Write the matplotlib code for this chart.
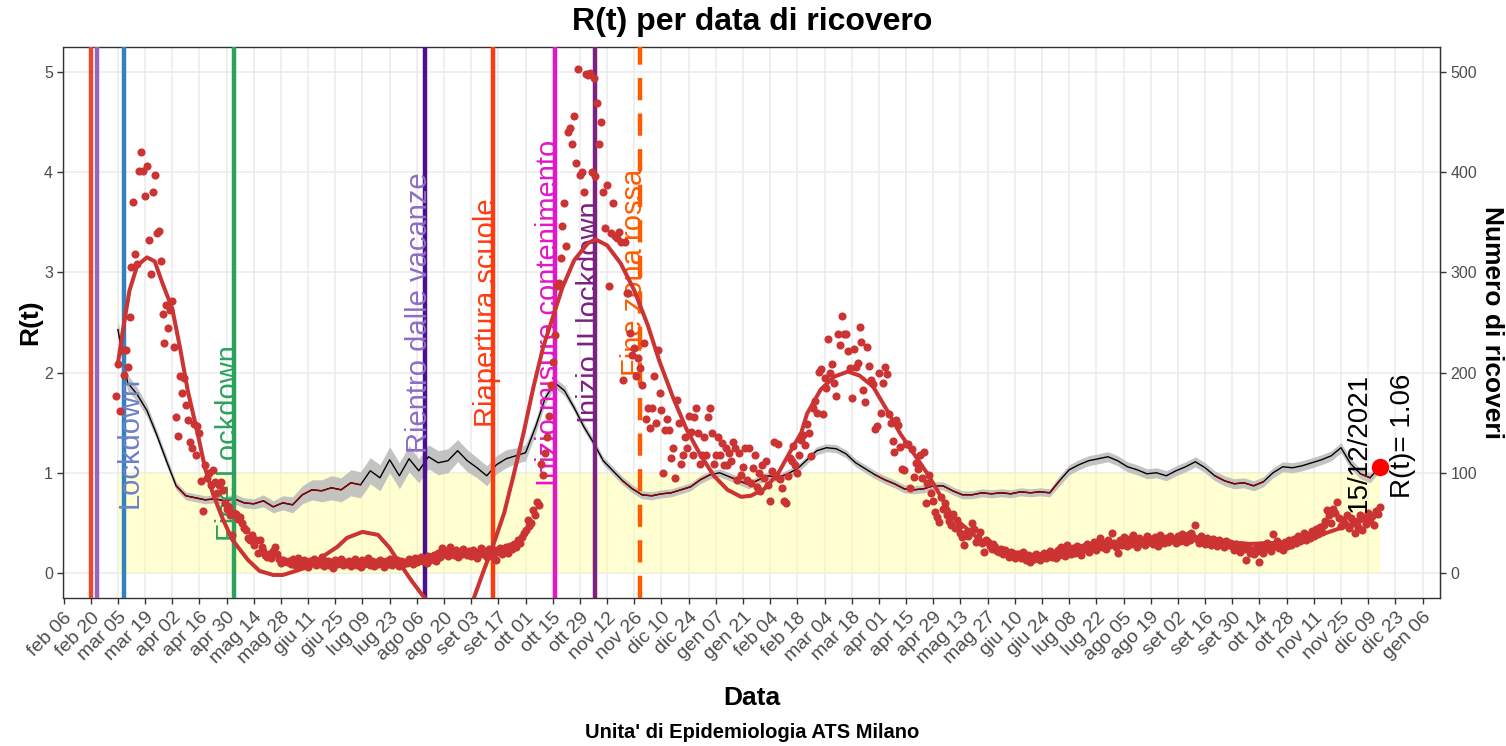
import matplotlib
matplotlib.use("Agg")
import matplotlib.pyplot as plt
import numpy as np
import pandas as pd

plt.rcParams['font.family'] = ['Liberation Sans', 'DejaVu Sans']

# ricoveri giornalieri (dal 4 marzo 2020)
ricoveri_start = "2020-03-04"
ricoveri_2020 = [
    177, 209, 162, 223, 198, 223, 206, 255, 305, 370, 318, 308, 401, 420, 401, 376, 406, 332, 298, 380,
    397, 339, 341, 311, 258, 230, 267, 245,
    262, 271, 226, 156, 137, 197, 180, 195, 168, 153, 131, 125, 149, 118, 147, 140, 92, 62, 108, 95,
    100, 88, 103, 91, 80, 88, 91, 83, 70, 64,
    66, 58, 38, 60, 59, 54, 56, 50, 45, 43, 35, 33, 38, 28, 33, 20, 33, 26, 22, 18,
    16, 19, 15, 22, 26, 19, 14, 10, 13, 12, 11,
    12, 9, 14, 8, 11, 15, 7, 10, 13, 9, 6, 12, 10, 14, 8, 11, 9, 16, 7, 10,
    12, 8, 11, 5, 13, 9, 10, 14, 8, 11,
    9, 12, 7, 10, 14, 8, 11, 6, 13, 9, 10, 15, 8, 12, 7, 11, 9, 13, 10, 6,
    12, 9, 14, 8, 11, 10, 13, 7, 12, 9, 11,
    10, 14, 12, 9, 15, 11, 13, 16, 12, 14, 10, 17, 13, 15, 18, 12, 20, 16, 25, 19,
    22, 17, 26, 20, 18, 23, 16, 21, 19, 24, 20,
    18, 22, 17, 23, 20, 15, 21, 25, 19, 22, 16, 24, 20, 18, 23, 13, 21, 25, 19, 23,
    26, 20, 27, 24, 29, 26, 33, 30, 36, 40,
    43, 53, 47, 50, 63, 58, 71, 68, 109, 98, 120, 136, 157, 188, 211, 238, 286, 289, 314, 346,
    369, 326, 440, 444, 428, 456, 409, 503, 397, 400, 380,
    498, 497, 499, 400, 494, 396, 469, 428, 450, 380, 344, 387, 286, 339, 369, 336, 334, 340, 330, 193,
    330, 279, 279, 240, 218, 225, 197, 215, 205, 188,
    230, 154, 165, 145, 165, 197, 150, 223, 180, 163, 100, 143, 154, 143, 115, 125, 95, 173, 150, 109,
    118, 136, 125, 157, 141, 118, 156, 165, 140, 109, 118,
]
ricoveri_2021 = [
    136, 118, 156, 165, 140, 109, 118, 136, 118, 130, 108, 125, 108, 120, 112, 131, 125, 93, 120, 98,
    106, 125, 93, 125, 90, 105, 118, 86, 100, 82, 108,
    95, 112, 88, 72, 102, 131, 97, 129, 94, 85, 72, 70, 97, 115, 112, 127, 108, 100, 118, 133,
    138, 128, 149, 140, 117, 165, 172, 160,
    201, 204, 159, 195, 185, 234, 200, 209, 190, 177, 239, 228, 256, 239, 239, 222, 205, 175, 224, 206,
    210, 246, 231, 183, 171, 226, 207, 193, 189, 144, 147,
    200, 160, 190, 206, 199, 159, 150, 132, 121, 153, 148, 126, 104, 103, 129, 129, 85, 124, 96, 110,
    104, 118, 95, 121, 70, 90, 98, 80, 72, 61,
    56, 51, 76, 64, 70, 58, 52, 48, 59, 45, 53, 47, 40, 36, 28, 40, 37, 42, 50, 44,
    31, 35, 41, 30, 21, 33, 31, 27, 24, 29, 26,
    22, 21, 24, 19, 23, 20, 16, 21, 18, 15, 17, 19, 15, 21, 17, 13, 18, 11, 16, 14,
    19, 16, 13, 18, 20, 15, 17, 22, 16, 20,
    15, 23, 18, 26, 21, 17, 28, 22, 19, 25, 20, 27, 23, 18, 26, 24, 29, 21, 27, 25,
    31, 23, 28, 35, 26, 30, 24, 33, 28, 40, 30,
    26, 20, 33, 28, 36, 31, 27, 34, 29, 38, 32, 26, 35, 30, 33, 28, 37, 31, 34, 29,
    36, 32, 27, 38, 33, 30, 35, 31, 37, 33, 34,
    30, 37, 32, 39, 35, 31, 38, 33, 40, 36, 48, 34, 30, 37, 33, 29, 35, 31, 28, 34,
    30, 27, 33, 29, 31, 26, 32, 28, 30, 27,
    23, 29, 25, 21, 28, 24, 13, 26, 20, 23, 19, 25, 22, 11, 28, 20, 24, 30, 26, 22,
    39, 27, 32, 25, 29, 23, 31, 27, 33, 28, 30,
    34, 30, 37, 32, 36, 40, 33, 38, 35, 42, 37, 44, 39, 46, 41, 48, 52, 63, 58, 50,
    64, 60, 71, 55, 47, 53, 49, 58, 45, 55,
    50, 40, 52, 46, 58, 43, 55, 49, 60, 52, 57, 48, 62, 59, 66,
]

# curva smussata dei ricoveri: giorni dal 6 feb 2020 e valore
smooth_origin = "2020-02-06"
smooth_days = [28, 31, 34, 38, 43, 47, 51, 56, 60, 64, 69, 73, 77, 82, 87, 95, 101, 108, 113, 118,
               126, 134, 141, 146, 154, 162, 168, 173, 179, 184, 189, 199, 207, 211, 216, 221, 227, 232, 237, 242,
               247, 252, 257, 263, 270, 274, 280, 287, 294, 301, 307, 314, 321, 328, 335, 342, 349, 354, 361, 368,
               374, 380, 383, 390, 397, 404, 410, 417, 424, 431, 438, 445, 452, 458, 466, 472, 479, 489, 500, 513,
               534, 560, 586, 611, 637, 658, 678]
smooth_vals = [209, 247, 282, 307, 315, 311, 289, 264, 225, 182, 140, 104, 79, 54, 33, 13, 2, -2, -2, 1,
               6, 17, 26, 35, 41, 38, 25, 10, -7, -20, -32, -55, -45, -27, 0, 26, 60, 99, 140, 185,
               225, 255, 285, 312, 329, 333, 327, 309, 282, 247, 211, 175, 143, 118, 97, 83, 76, 77, 84, 99,
               120, 140, 159, 183, 196, 201, 197, 186, 163, 139, 119, 99, 76, 56, 43, 33, 26, 21, 18, 20,
               27, 32, 33, 29, 31, 45, 58]

# R(t) ogni 5 giorni dal 5 marzo 2020, con semi-ampiezza dell'intervallo
rt_start = "2020-03-05"
rt_values = [
    2.43, 1.90, 1.78, 1.62, 1.38, 1.12, 0.87, 0.77, 0.75, 0.73,
    0.74, 0.72, 0.74, 0.70, 0.69, 0.72, 0.66, 0.70, 0.68, 0.78,
    0.83, 0.82, 0.85, 0.83, 0.90, 0.88, 1.02, 0.95, 1.13, 0.97,
    1.14, 1.02, 1.16, 1.10, 1.12, 1.22, 1.12, 1.05, 0.97, 1.08,
    1.14, 1.17, 1.20, 1.45, 1.74, 1.90, 1.82, 1.65, 1.46, 1.30,
    1.12, 1.02, 0.92, 0.84, 0.78, 0.77, 0.79, 0.80, 0.83, 0.86,
    0.93, 0.98, 1.00, 0.96, 0.92, 0.88, 0.93, 0.97, 0.95, 0.99,
    1.04, 1.13, 1.22, 1.25, 1.24, 1.19, 1.10, 1.04, 0.98, 0.93,
    0.89, 0.84, 0.83, 0.84, 0.87, 0.87, 0.82, 0.78, 0.78, 0.80,
    0.79, 0.80, 0.79, 0.81, 0.80, 0.81, 0.80, 0.92, 1.03, 1.08,
    1.12, 1.14, 1.16, 1.12, 1.06, 1.03, 0.99, 1.00, 0.97, 1.02,
    1.06, 1.11, 1.05, 0.97, 0.92, 0.89, 0.90, 0.87, 0.91, 1.00,
    1.06, 1.05, 1.07, 1.10, 1.13, 1.17, 1.25, 1.09, 0.99, 0.95,
    1.06,
]
rt_halfwidth = [
    0.10, 0.08, 0.07, 0.06, 0.05, 0.05, 0.04, 0.04, 0.04, 0.04,
    0.04, 0.04, 0.05, 0.05, 0.05, 0.06, 0.06, 0.07, 0.08, 0.09,
    0.10, 0.11, 0.12, 0.12, 0.13, 0.13, 0.13, 0.13, 0.13, 0.13,
    0.13, 0.12, 0.12, 0.12, 0.12, 0.11, 0.11, 0.10, 0.10, 0.09,
    0.09, 0.08, 0.08, 0.07, 0.06, 0.05, 0.05, 0.04, 0.04, 0.04,
    0.04, 0.04, 0.04, 0.04, 0.04, 0.04, 0.04, 0.04, 0.04, 0.04,
    0.04, 0.04, 0.04, 0.04, 0.04, 0.04, 0.04, 0.04, 0.04, 0.04,
    0.04, 0.04, 0.04, 0.04, 0.04, 0.04, 0.04, 0.04, 0.04, 0.04,
    0.04, 0.04, 0.04, 0.04, 0.04, 0.04, 0.04, 0.04, 0.04, 0.04,
    0.04, 0.04, 0.04, 0.04, 0.04, 0.04, 0.04, 0.05, 0.05, 0.05,
    0.05, 0.05, 0.05, 0.05, 0.05, 0.05, 0.05, 0.05, 0.05, 0.05,
    0.05, 0.05, 0.05, 0.05, 0.05, 0.05, 0.05, 0.05, 0.05, 0.05,
    0.05, 0.05, 0.05, 0.05, 0.05, 0.05, 0.05, 0.05, 0.05, 0.05,
    0.05,
]
rt_last_date = "2021-12-15"
rt_last = 1.06

# eventi
event_dates = ["2020-02-20", "2020-02-23", "2020-03-08", "2020-05-04", "2020-08-10",
               "2020-09-14", "2020-10-16", "2020-11-06", "2020-11-29"]
event_labels = ["", "", "Lockdown", "Fine Lockdown", "Rientro dalle vacanze",
                "Riapertura scuole", "Inizio misure contenimento", "Inizio II lockdown", "Fine zona rossa"]
event_colors = ["#E64B2E", "#9467BD", "#3182BD", "#2CA25F", "#4B0F8F",
                "#FF3A10", "#E317C8", "#7B2181", "#FF5A00"]
event_text_colors = ["#E64B2E", "#9467BD", "#6F80C8", "#2CA25F", "#8E6CC6",
                     "#FF3A10", "#E317C8", "#7B2181", "#FF5A00"]
label_shift_days = [0, 0, 3, -3, -3, -3, -3, -3, -3]
label_y = [0, 0, 1.3, 1.3, 2.6, 2.6, 2.6, 2.6, 3.0]
event_styles = ["-", "-", "-", "-", "-", "-", "-", "-", "--"]

mesi = ["gen", "feb", "mar", "apr", "mag", "giu", "lug", "ago", "set", "ott", "nov", "dic"]

pts_col = "#CC3333"

fig = plt.figure(figsize=(15.06, 7.46), dpi=100)
ax = fig.add_axes([63.5 / 1506, 1 - 598 / 746, (1440 - 63.5) / 1506, 551 / 746])

ric = np.array(ricoveri_2020 + ricoveri_2021) / 100
ric_dates = pd.date_range(ricoveri_start, periods=len(ric), freq="D")
rt = np.array(rt_values)
hw = np.array(rt_halfwidth)
rt_dates = pd.date_range(rt_start, periods=len(rt), freq="5D")
sm_dates = pd.Timestamp(smooth_origin) + pd.to_timedelta(smooth_days, unit="D")
sm = np.array(smooth_vals) / 100

# banda gialla R<1
ax.fill_between([pd.Timestamp(rt_start), pd.Timestamp(rt_last_date)], 0, 1,
                color="#FFFF99", alpha=0.45, lw=0, zorder=1)

# intervallo e linea R(t)
ax.fill_between(rt_dates, rt - hw, rt + hw, color="#BDBDBD", alpha=0.9, lw=0, zorder=2)
ax.plot(rt_dates, rt, color="black", lw=1.0, zorder=3)
rt_below = np.where(rt < 1, rt, np.nan)
ax.plot(rt_dates, rt_below, color="#8B0000", lw=1.0, zorder=3.1)

# linee degli eventi
for d, lab, c, tc, sh, ly, ls in zip(event_dates, event_labels, event_colors, event_text_colors,
                                     label_shift_days, label_y, event_styles):
    d = pd.Timestamp(d)
    if ls == "--":
        ax.axvline(d, color=c, lw=3.2, ls=(0, (5, 3)), zorder=4)
    else:
        ax.axvline(d, color=c, lw=3.2, zorder=4)
    if lab:
        ax.text(d + pd.Timedelta(days=sh), ly, lab, rotation=90, ha="center", va="center",
                color=tc, fontsize=21, zorder=4.5)

# ricoveri e curva smussata
ax.scatter(ric_dates, ric, s=34, color=pts_col, lw=0, zorder=5)
ax.plot(sm_dates, sm, color=pts_col, lw=2.9, zorder=5.5)

# ultimo valore
last = pd.Timestamp(rt_last_date)
ax.plot(last, rt_last, "o", color="#FF0000", ms=11.5, zorder=7)
ax.text(last - pd.Timedelta(days=11), 1.30, last.strftime("%d/%m/%Y"), rotation=90,
        ha="center", va="center", fontsize=20, color="black", zorder=7)
ax.text(last + pd.Timedelta(days=12), 1.37, "R(t)= %.2f" % rt_last, rotation=90,
        ha="center", va="center", fontsize=20, color="black", zorder=7)

# assi
xticks = pd.date_range("2020-02-06", "2022-01-06", freq="14D")
ax.set_xticks(xticks)
ax.set_xticklabels(["%s %02d" % (mesi[t.month - 1], t.day) for t in xticks],
                   rotation=45, ha="right", va="top", rotation_mode="anchor")
ax.set_xlim(pd.Timestamp("2020-02-06"), pd.Timestamp("2022-01-15"))
ax.set_ylim(-0.25, 5.25)
ax.set_yticks(range(6))
ax.grid(True, color="#EBEBEB", lw=1.1)
ax.set_axisbelow(True)
for s in ax.spines.values():
    s.set_color("#333333")
    s.set_linewidth(1.0)
ax.tick_params(axis="both", colors="#333333", length=4, width=1, labelsize=11.5,
               labelcolor="#4D4D4D")
ax.tick_params(axis="x", pad=4, labelsize=14)

sec = ax.secondary_yaxis("right", functions=(lambda v: v * 100, lambda v: v / 100))
sec.set_yticks(range(0, 501, 100))
sec.tick_params(colors="#333333", length=4, width=1, labelsize=11.5, labelcolor="#4D4D4D")
sec.spines["right"].set_color("#333333")
sec.set_ylabel("Numero di ricoveri", fontsize=19, fontweight="bold", rotation=-90,
               va="bottom", labelpad=2)

ax.set_ylabel("R(t)", fontsize=19, fontweight="bold", va="center")
ax.yaxis.set_label_coords(-0.024, 0.5)
ax.set_xlabel("Data", fontsize=19, fontweight="bold", va="center")
ax.xaxis.set_label_coords(0.5, -0.181)

ax.set_title("R(t) per data di ricovero", fontsize=23, fontweight="bold", pad=12)
fig.text(752 / 1506, 1 - 733 / 746, "Unita' di Epidemiologia ATS Milano", ha="center",
         va="center", fontsize=14.5, fontweight="bold")

fig.savefig("out.png", dpi=100)
